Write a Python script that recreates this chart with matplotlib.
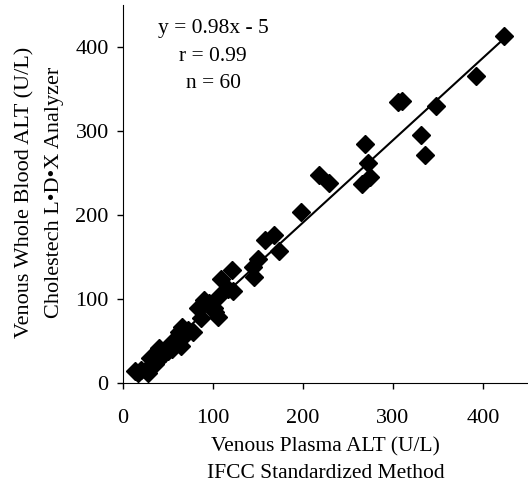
import matplotlib.pyplot as plt
import numpy as np

# venous plasma ALT (x) vs whole blood ALT (y), U/L
plasma_alt = [423, 392, 348, 331, 336, 306, 310, 269, 272, 266,
              274, 218, 229, 198, 158, 168, 173, 150, 144, 146,
              121, 122, 109, 107, 105, 101, 90, 83, 87, 95,
              102, 117, 78, 72, 68, 65, 63, 60, 64, 57,
              54, 50, 47, 43, 40, 38, 35, 33, 30, 28,
              25, 17, 13, 20, 45, 62, 70, 55, 36, 31]
blood_alt = [413, 365, 330, 295, 271, 334, 336, 285, 262, 237,
             245, 247, 238, 204, 170, 176, 157, 148, 138, 126,
             134, 109, 124, 104, 79, 89, 99, 89, 77, 95,
             84, 112, 61, 63, 62, 67, 58, 52, 44, 46,
             41, 38, 36, 34, 42, 26, 22, 29, 30, 12,
             16, 12, 14, 15, 39, 61, 58, 50, 33, 20]

slope, intercept = 0.98, -5
stats_lines = ["y = 0.98x - 5", "r = 0.99", "n = 60"]
ticks = [0, 100, 200, 300, 400]

plt.rcParams["font.family"] = ["Liberation Serif", "DejaVu Serif"]

fig = plt.figure(figsize=(5.28, 4.91), dpi=100)
ax = fig.add_axes([0.233, 0.22, 0.767, 0.77])

ax.plot(plasma_alt, blood_alt, "D", color="black", markersize=9.5, zorder=3)

# regression line over the data range
xs = np.array([min(plasma_alt), max(plasma_alt)])
ax.plot(xs, slope * xs + intercept, color="black", linewidth=1.5, zorder=2)

for i, line in enumerate(stats_lines):
    ax.text(100, 422 - i * 33, line, ha="center", va="center", fontsize=15.5)

ax.set_xlim(0, 450)
ax.set_ylim(0, 450)
ax.set_xticks(ticks)
ax.set_yticks(ticks)
ax.tick_params(direction="out", length=4.3, width=1, labelsize=16)
ax.tick_params(axis="x", pad=14.5)
ax.tick_params(axis="y", pad=6)

ax.spines["top"].set_visible(False)
ax.spines["right"].set_visible(False)

ax.set_xlabel("Venous Plasma ALT (U/L)\nIFCC Standardized Method",
              fontsize=15.5, linespacing=1.55)
ax.xaxis.set_label_coords(0.5, -0.143)
ax.set_ylabel("Venous Whole Blood ALT (U/L)\nCholestech L\u2022D\u2022X Analyzer",
              fontsize=16, linespacing=1.75)
ax.yaxis.set_label_coords(-0.145, 0.505)

fig.savefig("out.png", dpi=100)
